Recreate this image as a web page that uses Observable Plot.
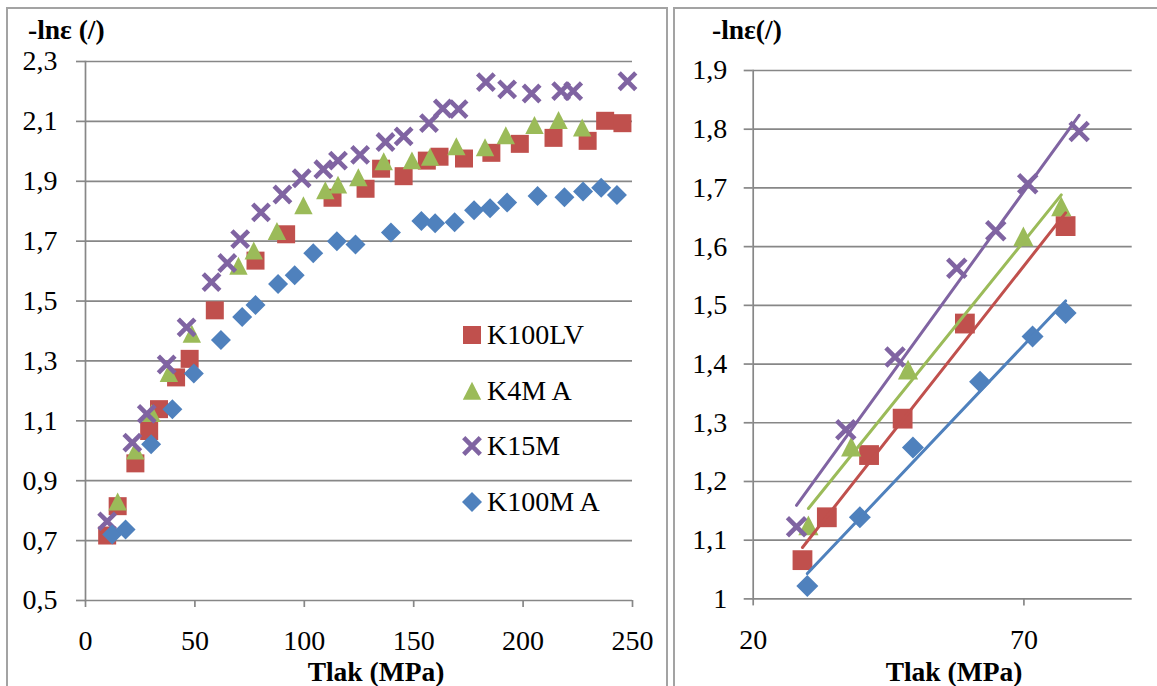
<!DOCTYPE html>
<html><head><meta charset="utf-8">
<script src="https://cdn.jsdelivr.net/npm/d3@7"></script>
<script src="https://cdn.jsdelivr.net/npm/@observablehq/plot@0.6"></script>
<style>
body{margin:0;background:#fff;width:1157px;height:686px;overflow:hidden;position:relative;font-family:"Liberation Serif","Tinos","DejaVu Serif","Noto Serif",serif;}
.abs{position:absolute;}
.frame{position:absolute;border:2px solid #a3a3a3;border-bottom:none;box-sizing:border-box;pointer-events:none;}
.title{position:absolute;font-weight:bold;font-size:27.5px;white-space:nowrap;line-height:0.75;transform:translateY(-50%);}
.xtitle{position:absolute;font-weight:bold;font-size:27.5px;white-space:nowrap;line-height:0.75;transform:translate(-50%,-50%);}
.leg{position:absolute;font-size:28px;line-height:1;white-space:nowrap;display:flex;align-items:center;}
.leg svg{margin-right:4px;}
</style></head><body>
<div id="left" class="abs" style="left:0;top:0"></div>
<div id="right" class="abs" style="left:667px;top:0"></div>
<div class="frame" style="left:6px;top:7px;width:662px;height:720px"></div>
<div class="frame" style="left:673px;top:7px;width:520px;height:720px;border-right:none"></div>
<div class="title" style="left:28px;top:29.8px">-lnε (/)</div>
<div class="title" style="left:712px;top:29.8px">-lnε(/)</div>
<div class="xtitle" style="left:376px;top:672px">Tlak (MPa)</div>
<div class="xtitle" style="left:954px;top:672px">Tlak (MPa)</div>
<div id="legend"></div>
<script>
// ---- data ----
const seriesNames = ["K100LV", "K4M A", "K15M", "K100M A"];
const seriesColors = ["#C0504D", "#9BBB59", "#8064A2", "#4F81BD"];

const k100lvX = [9.9, 14.7, 22.8, 29.1, 33.6, 41.4, 47.6, 59.1, 77.7, 91.7, 112.9, 128.0, 135.1, 145.4, 156.0, 161.8, 173.0, 185.5, 198.5, 213.9, 229.5, 237.5, 245.4];
const k100lvY = [0.717, 0.815, 0.958, 1.066, 1.139, 1.245, 1.307, 1.469, 1.635, 1.723, 1.845, 1.875, 1.942, 1.917, 1.969, 1.982, 1.976, 1.995, 2.025, 2.045, 2.035, 2.102, 2.094];

const k4mX = [14.7, 22.8, 30.2, 38.1, 48.6, 69.9, 76.9, 87.5, 99.6, 109.6, 115.4, 124.7, 136.3, 149.2, 157.5, 169.5, 182.6, 192.1, 205.2, 216.2, 227.0];
const k4mY = [0.83, 1.0, 1.125, 1.259, 1.39, 1.617, 1.668, 1.733, 1.819, 1.869, 1.888, 1.913, 1.966, 1.969, 1.981, 2.016, 2.013, 2.053, 2.087, 2.104, 2.079];

const k15mX = [9.9, 21.4, 28.0, 37.1, 46.2, 57.6, 64.8, 70.7, 80.2, 90.0, 98.8, 108.7, 115.4, 125.5, 137.1, 145.4, 157.0, 163.3, 170.5, 183.0, 192.7, 203.9, 217.4, 222.9, 247.7];
const k15mY = [0.764, 1.027, 1.123, 1.288, 1.412, 1.563, 1.627, 1.707, 1.796, 1.856, 1.91, 1.94, 1.969, 1.988, 2.031, 2.05, 2.094, 2.143, 2.141, 2.231, 2.207, 2.193, 2.201, 2.201, 2.234];

const k100mX = [12.2, 18.3, 30.0, 39.7, 49.5, 61.9, 71.6, 77.7, 88.0, 95.6, 104.1, 114.9, 123.4, 139.6, 153.5, 159.8, 168.7, 177.6, 184.9, 192.7, 206.6, 218.9, 227.4, 235.7, 242.9];
const k100mY = [0.72, 0.737, 1.022, 1.139, 1.258, 1.37, 1.447, 1.487, 1.557, 1.586, 1.66, 1.70, 1.689, 1.729, 1.767, 1.76, 1.763, 1.803, 1.81, 1.829, 1.851, 1.847, 1.866, 1.878, 1.854];

// ticks
const xTicksLeft = [0, 50, 100, 150, 200, 250];
const yTicksLeft = [0.5, 0.7, 0.9, 1.1, 1.3, 1.5, 1.7, 1.9, 2.1, 2.3];
const xTicksRight = [20, 70];
const yTicksRight = [1, 1.1, 1.2, 1.3, 1.4, 1.5, 1.6, 1.7, 1.8, 1.9];
// pressure range used for the linear (right) panel
const fitRange = [25, 82];

// ---- build tables ----
const seriesX = [k100lvX, k4mX, k15mX, k100mX];
const seriesY = [k100lvY, k4mY, k15mY, k100mY];
const rows = seriesNames.flatMap((name, k) => seriesX[k].map((x, i) => ({series: name, x, y: seriesY[k][i]})));
const rowsRight = rows.filter(d => d.x >= fitRange[0] && d.x <= fitRange[1]);

// ---- symbols (r = half-size) ----
const rad = size => Math.sqrt(size / Math.PI);
const symSquare = {draw(c, s){ const r = rad(s); c.rect(-r, -r, 2*r, 2*r); }};
const symTriangle = {draw(c, s){ const r = rad(s); c.moveTo(0, -r); c.lineTo(r, r*0.95); c.lineTo(-r, r*0.95); c.closePath(); }};
const symX = {draw(c, s){ const r = rad(s); c.moveTo(-r, -r); c.lineTo(r, r); c.moveTo(-r, r); c.lineTo(r, -r); }};
const symDiamond = {draw(c, s){ const r = rad(s); c.moveTo(0, -r); c.lineTo(r, 0); c.lineTo(0, r); c.lineTo(-r, 0); c.closePath(); }};
const symbols = [symSquare, symTriangle, symX, symDiamond];
const stroked = [false, false, true, false];
const baseR = [9, 9.2, 8.3, 10];

const fmt = d => String(+d.toFixed(2)).replace(".", ",");
const gridColor = "#878787";
const fontStack = "'Liberation Serif', Tinos, 'DejaVu Serif', 'Noto Serif', serif";

function dotMarks(data, scale) {
  return seriesNames.map((name, k) => {
    const sub = data.filter(d => d.series === name);
    if (stroked[k]) {
      return Plot.dot(sub, {x: "x", y: "y", symbol: symbols[k], r: baseR[k] * scale, fill: "none", stroke: seriesColors[k], strokeWidth: 4.6});
    }
    return Plot.dot(sub, {x: "x", y: "y", symbol: symbols[k], r: baseR[k] * scale, fill: seriesColors[k], stroke: "none"});
  });
}

const common = {fontFamily: fontStack, fontSize: "28px", background: "transparent", color: "#000", overflow: "visible"};

const left = Plot.plot({
  width: 667, height: 686,
  marginLeft: 85, marginRight: 35, marginTop: 61, marginBottom: 86,
  style: common,
  x: {domain: [0, 250]},
  y: {domain: [0.5, 2.3]},
  marks: [
    Plot.gridY(yTicksLeft, {stroke: gridColor, strokeOpacity: 1, strokeWidth: 1.7}),
    Plot.axisY(yTicksLeft, {tickSize: 9, tickPadding: 19, stroke: gridColor, strokeWidth: 1.7, tickFormat: fmt, fontSize: 28, label: null}),
    Plot.axisX(xTicksLeft, {tickSize: 7, tickPadding: 23, stroke: gridColor, strokeWidth: 1.7, tickFormat: d => String(d), fontSize: 28, label: null}),
    Plot.frame({anchor: "left", stroke: gridColor, strokeWidth: 1.7}),
    ...dotMarks(rows, 1)
  ]
});
document.getElementById("left").appendChild(left);

const right = Plot.plot({
  width: 490, height: 686,
  marginLeft: 85.7, marginRight: 25.3, marginTop: 70, marginBottom: 87.6,
  style: common,
  x: {domain: [20, 90]},
  y: {domain: [1, 1.9]},
  marks: [
    Plot.gridY(yTicksRight, {stroke: gridColor, strokeOpacity: 1, strokeWidth: 1.7}),
    Plot.axisY(yTicksRight, {tickSize: 9, tickPadding: 17, stroke: gridColor, strokeWidth: 1.7, tickFormat: fmt, fontSize: 28, label: null}),
    Plot.axisX(xTicksRight, {tickSize: 7, tickPadding: 23.5, stroke: gridColor, strokeWidth: 1.7, tickFormat: d => String(d), fontSize: 28, label: null}),
    Plot.frame({anchor: "left", stroke: gridColor, strokeWidth: 1.7}),
    ...dotMarks(rowsRight, 1.1),
    ...seriesNames.map((name, k) => Plot.linearRegressionY(rowsRight.filter(d => d.series === name), {x: "x", y: "y", stroke: seriesColors[k], strokeWidth: 3, ci: 0}))
  ]
});
document.getElementById("right").appendChild(right);

// ---- legend (inside left plot) ----
const legTop = [335, 391, 446, 502];
const legendDiv = document.getElementById("legend");
seriesNames.forEach((name, k) => {
  const item = document.createElement("div");
  item.className = "leg";
  item.style.left = "461px";
  item.style.top = (legTop[k] - 14) + "px";
  item.style.height = "28px";
  const svg = d3.create("svg").attr("width", 22).attr("height", 22).attr("viewBox", "-11 -11 22 22");
  const r = baseR[k];
  const p = svg.append("path").attr("d", d3.symbol(symbols[k], Math.PI * r * r)());
  if (stroked[k]) p.attr("fill", "none").attr("stroke", seriesColors[k]).attr("stroke-width", 4.6);
  else p.attr("fill", seriesColors[k]);
  item.appendChild(svg.node());
  const t = document.createElement("span");
  t.textContent = name;
  item.appendChild(t);
  legendDiv.appendChild(item);
});
</script>
</body></html>
